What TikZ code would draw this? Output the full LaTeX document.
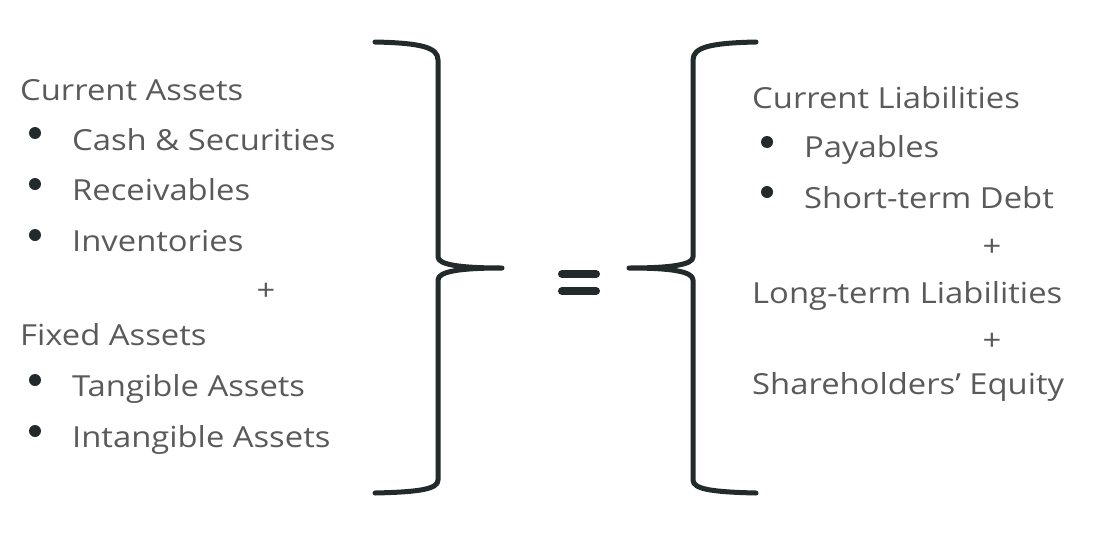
\documentclass[tikz,border=0pt]{standalone}
\usepackage{fontspec}
\setmainfont{Open Sans}[FakeStretch=1.13]
\definecolor{txt}{HTML}{5A5A5A}
\definecolor{ink}{HTML}{232A2B}
\begin{document}
\begin{tikzpicture}[x=1pt,y=-1pt,
  lbl/.style={anchor=base west,inner sep=0pt,text=txt,font=\fontsize{29}{34}\selectfont},
  pls/.style={anchor=base,inner sep=0pt,text=txt,font=\fontsize{29}{34}\selectfont},
  dot/.style={circle,fill=ink,inner sep=0pt,minimum size=12pt},
  brace/.style={draw=ink,line width=5pt,line cap=round,line join=round}]
\useasboundingbox (0,0) rectangle (1102,546);
% left column
\node[lbl] (ca) at (20,100) {Current Assets};
\node[dot] (b1) at (35,133) {}; \node[lbl] (cs) at (72,150) {Cash \& Securities};
\node[dot] (b2) at (35,184) {}; \node[lbl] (rc) at (72,200) {Receivables};
\node[dot] (b3) at (35,235) {}; \node[lbl] (iv) at (72,251) {Inventories};
\node[pls] (p1) at (266,300) {+};
\node[lbl] (fa) at (20,345) {Fixed Assets};
\node[dot] (b4) at (35,380) {}; \node[lbl] (ta) at (72,396) {Tangible Assets};
\node[dot] (b5) at (35,431) {}; \node[lbl] (ia) at (72,447) {Intangible Assets};
% left brace
\coordinate (lt) at (375,42);
\coordinate (lm) at (502,268);
\coordinate (lb) at (375,493);
\draw[brace] (lt) .. controls (420,43) and (438,47) .. (438,60) -- (438,257)
  .. controls (438,265) and (462,268) .. (lm)
  .. controls (462,268) and (438,271) .. (438,280) -- (438,480)
  .. controls (438,489) and (420,492) .. (lb);
% equals
\coordinate (e1) at (562,274); \coordinate (e2) at (596,274);
\coordinate (e3) at (562,291); \coordinate (e4) at (596,291);
\draw[draw=ink,line width=8pt,line cap=round] (e1) -- (e2) (e3) -- (e4);
% right brace
\coordinate (rt) at (756,42);
\coordinate (rm) at (629,268);
\coordinate (rb) at (756,493);
\draw[brace] (rt) .. controls (711,43) and (693,47) .. (693,60) -- (693,257)
  .. controls (693,265) and (669,268) .. (rm)
  .. controls (669,268) and (693,271) .. (693,280) -- (693,480)
  .. controls (693,489) and (711,492) .. (rb);
% right column
\node[lbl] (cl) at (752,108) {Current Liabilities};
\node[dot] (b6) at (767,142) {}; \node[lbl] (py) at (804,157) {Payables};
\node[dot] (b7) at (767,192) {}; \node[lbl] (sd) at (804,208) {Short-term Debt};
\node[pls] (p2) at (992,256) {+};
\node[lbl] (ll) at (752,303) {Long-term Liabilities};
\node[pls] (p3) at (992,350) {+};
\node[lbl] (se) at (752,394) {Shareholders’ Equity};
\end{tikzpicture}
\end{document}
